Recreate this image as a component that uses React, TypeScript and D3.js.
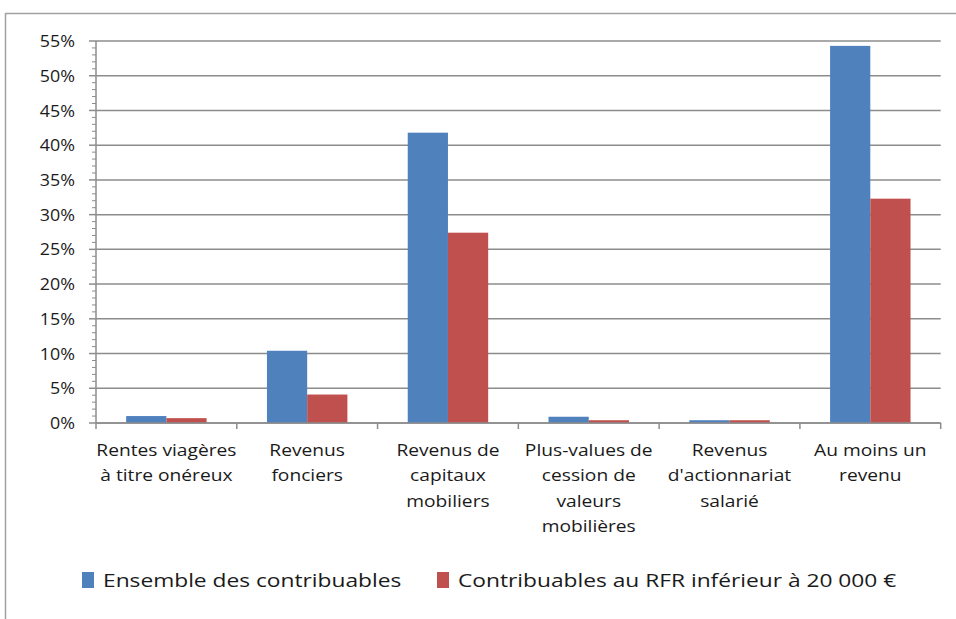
import * as d3 from "d3";

const categories = [
  "Rentes viagères à titre onéreux",
  "Revenus fonciers",
  "Revenus de capitaux mobiliers",
  "Plus-values de cession de valeurs mobilières",
  "Revenus d'actionnariat salarié",
  "Au moins un revenu",
];
// wrapped lines of the category labels, as in the picture
const categoryLines = [
  ["Rentes viagères", "à titre onéreux"],
  ["Revenus", "fonciers"],
  ["Revenus de", "capitaux", "mobiliers"],
  ["Plus-values de", "cession de", "valeurs", "mobilières"],
  ["Revenus", "d'actionnariat", "salarié"],
  ["Au moins un", "revenu"],
];
const seriesNames = [
  "Ensemble des contribuables",
  "Contribuables au RFR inférieur à 20 000 €",
];
const ensemble = [1.0, 10.4, 41.8, 0.9, 0.4, 54.3];
const rfr20000 = [0.7, 4.1, 27.4, 0.4, 0.4, 32.3];
const yTicks = [0, 5, 10, 15, 20, 25, 30, 35, 40, 45, 50, 55];
const colors = ["#4F81BD", "#C0504D"];

const W = 956;
const H = 619;
const FONT = "'Open Sans', 'Noto Sans', sans-serif";

// the original uses a narrow font drawn wide; stretch text horizontally around cx
const stretch = (cx: number, sx: number) =>
  `translate(${cx},0) scale(${sx},1) translate(${-cx},0)`;

export default function App() {
  const plot = { left: 96, right: 940.7, top: 41, bottom: 423 };

  const x = d3.scaleBand<string>().domain(categories).range([plot.left, plot.right]);
  const xInner = d3
    .scaleBand<string>()
    .domain(seriesNames)
    .range([0, x.bandwidth()])
    .paddingInner(0)
    .paddingOuter(0.75);
  const y = d3.scaleLinear().domain([0, 55]).range([plot.bottom, plot.top]);

  const minorTicks = d3.range(0, 56, 1).filter((v) => v % 5 !== 0);
  const values = [ensemble, rfr20000];
  const gridColor = "#8c8c8c";

  return (
    <svg
      width={W}
      height={H}
      style={{ position: "absolute", left: 0, top: 0, background: "#fff" }}
    >
      {/* chart frame */}
      <line x1={5} x2={W} y1={13.5} y2={13.5} stroke="#a0a0a0" strokeWidth={1.5} />
      <line x1={5.5} x2={5.5} y1={13} y2={H} stroke="#a0a0a0" strokeWidth={1.5} />

      {/* gridlines */}
      {yTicks.map((t) => (
        <line
          key={"g" + t}
          x1={plot.left}
          x2={plot.right}
          y1={y(t)}
          y2={y(t)}
          stroke={gridColor}
          strokeWidth={1.5}
        />
      ))}

      {/* bars */}
      {categories.map((c, i) =>
        seriesNames.map((s, j) => (
          <rect
            key={c + s}
            x={(x(c) ?? 0) + (xInner(s) ?? 0)}
            y={y(values[j][i])}
            width={xInner.bandwidth()}
            height={plot.bottom - y(values[j][i])}
            fill={colors[j]}
          />
        ))
      )}

      {/* y axis */}
      <line x1={plot.left} x2={plot.left} y1={plot.top} y2={plot.bottom} stroke={gridColor} strokeWidth={1.5} />
      {yTicks.map((t) => (
        <g key={"t" + t}>
          <line x1={plot.left - 7} x2={plot.left} y1={y(t)} y2={y(t)} stroke={gridColor} strokeWidth={1.5} />
          <text
            x={75}
            y={y(t)}
            dy="0.36em"
            textAnchor="end"
            fontFamily={FONT}
            fontSize={17}
            fill="#1a1a1a"
            transform={stretch(75, 1.05)}
          >
            {t}%
          </text>
        </g>
      ))}
      {minorTicks.map((t) => (
        <line key={"m" + t} x1={plot.left - 4} x2={plot.left} y1={y(t)} y2={y(t)} stroke={gridColor} strokeWidth={1} />
      ))}

      {/* x axis */}
      <line x1={plot.left} x2={plot.right} y1={plot.bottom} y2={plot.bottom} stroke={gridColor} strokeWidth={1.5} />
      {categories.concat([""]).map((c, i) => {
        const xx = i < categories.length ? x(c) ?? 0 : plot.right;
        return (
          <line key={"xt" + i} x1={xx} x2={xx} y1={plot.bottom} y2={plot.bottom + 6} stroke={gridColor} strokeWidth={1.5} />
        );
      })}
      {categories.map((c, i) => {
        const cx = (x(c) ?? 0) + x.bandwidth() / 2;
        return (
          <text
            key={"xl" + c}
            x={cx}
            y={456}
            textAnchor="middle"
            fontFamily={FONT}
            fontSize={16}
            fill="#1a1a1a"
            transform={stretch(cx, 1.2)}
          >
            {categoryLines[i].map((line, k) => (
              <tspan key={k} x={cx} dy={k === 0 ? 0 : 25.5}>
                {line}
              </tspan>
            ))}
          </text>
        );
      })}

      {/* legend */}
      {seriesNames.map((s, j) => {
        const lx = j === 0 ? 82 : 437;
        return (
          <g key={"lg" + s}>
            <rect x={lx} y={572} width={12} height={16} fill={colors[j]} />
            <text
              x={lx + 21}
              y={587}
              fontFamily={FONT}
              fontSize={18.5}
              fill="#1a1a1a"
              transform={stretch(lx + 21, 1.23)}
            >
              {s}
            </text>
          </g>
        );
      })}
    </svg>
  );
}
